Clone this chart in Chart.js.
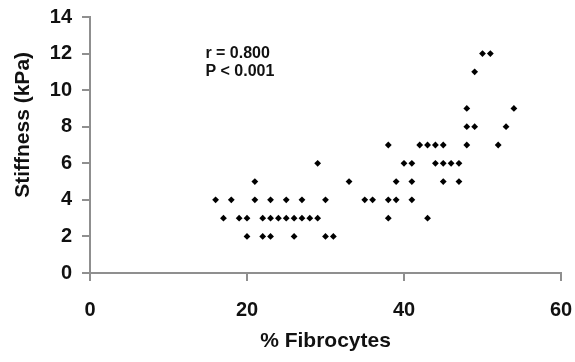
<!DOCTYPE html>
<html>
<head>
<meta charset="utf-8">
<script src="https://cdn.jsdelivr.net/npm/chart.js@4.4.0/dist/chart.umd.min.js"></script>
<style>
  html, body { margin: 0; padding: 0; background: #fff; }
  #wrap { width: 575px; height: 362px; }
</style>
</head>
<body>
<div id="wrap"><canvas id="chart-scatter" width="575" height="362"></canvas></div>
<script>
// % fibrocytes (x) vs stiffness in kPa (y)
const fibrocytes = [
  20, 22, 23, 26, 30, 31,
  17, 19, 20, 22, 23, 24, 25, 26, 27, 28, 29, 38, 43,
  16, 18, 21, 23, 25, 27, 30, 35, 36, 38, 39, 41,
  21, 33, 39, 41, 45, 47,
  29, 40, 41, 44, 45, 46, 47,
  38, 42, 43, 44, 45, 48, 52,
  48, 49, 53,
  48, 54,
  49,
  50, 51,
];
const stiffness = [
  2, 2, 2, 2, 2, 2,
  3, 3, 3, 3, 3, 3, 3, 3, 3, 3, 3, 3, 3,
  4, 4, 4, 4, 4, 4, 4, 4, 4, 4, 4, 4,
  5, 5, 5, 5, 5, 5,
  6, 6, 6, 6, 6, 6, 6,
  7, 7, 7, 7, 7, 7, 7,
  8, 8, 8,
  9, 9,
  11,
  12, 12,
];
const statLines = ["r = 0.800", "P < 0.001"];
const yTitle = "Stiffness (kPa)";

const axisGrey = "#8f8f8f";
const textColor = "#111";
const font = "'Liberation Sans', Arial, sans-serif";

const points = fibrocytes.map((x, i) => ({ x, y: stiffness[i] }));

// texte r / P + titre de l'axe Y (decale vers le haut comme l'original)
const extraText = {
  id: "extraText",
  afterDatasetsDraw(chart) {
    const { ctx, scales } = chart;
    ctx.save();
    ctx.fillStyle = textColor;
    ctx.font = "bold 16px " + font;
    ctx.textBaseline = "middle";
    ctx.fillText(statLines[0], scales.x.getPixelForValue(14.7), scales.y.getPixelForValue(12.0));
    ctx.fillText(statLines[1], scales.x.getPixelForValue(14.7), scales.y.getPixelForValue(11.0));

    ctx.font = "bold 21px " + font;
    ctx.textAlign = "center";
    ctx.translate(23, scales.y.getPixelForValue(8.1));
    ctx.rotate(-Math.PI / 2);
    ctx.fillText(yTitle, 0, 0);
    ctx.restore();
  },
};

new Chart(document.getElementById("chart-scatter").getContext("2d"), {
  type: "scatter",
  data: {
    datasets: [
      {
        label: "Stiffness",
        data: points,
        pointStyle: "rectRot",
        radius: 3.4,
        backgroundColor: "#000",
        borderColor: "#000",
        borderWidth: 0,
      },
    ],
  },
  options: {
    responsive: false,
    animation: false,
    layout: { padding: { left: 0, right: 14, top: 17, bottom: 0 } },
    plugins: {
      legend: { display: false },
      tooltip: { enabled: false },
    },
    scales: {
      x: {
        type: "linear",
        min: 0,
        max: 60,
        afterFit: (s) => {
          s.height = 89;
          s.paddingLeft = 0;
          s.paddingRight = 0;
        },
        ticks: {
          stepSize: 20,
          color: textColor,
          font: { family: font, size: 20, weight: "bold" },
          padding: 17,
        },
        grid: { drawOnChartArea: false, tickLength: 8, color: axisGrey, lineWidth: 2 },
        border: { color: axisGrey, width: 2 },
        title: {
          display: true,
          text: "% Fibrocytes",
          color: textColor,
          font: { family: font, size: 21, weight: "bold" },
          padding: { top: 0, bottom: 8 },
        },
      },
      y: {
        type: "linear",
        min: 0,
        max: 14,
        afterFit: (s) => {
          s.width = 90;
          s.paddingTop = 0;
          s.paddingBottom = 0;
        },
        ticks: {
          stepSize: 2,
          color: textColor,
          font: { family: font, size: 20, weight: "bold" },
          padding: 10,
        },
        grid: { drawOnChartArea: false, tickLength: 8, color: axisGrey, lineWidth: 2 },
        border: { color: axisGrey, width: 2 },
      },
    },
  },
  plugins: [extraText],
});
</script>
</body>
</html>
